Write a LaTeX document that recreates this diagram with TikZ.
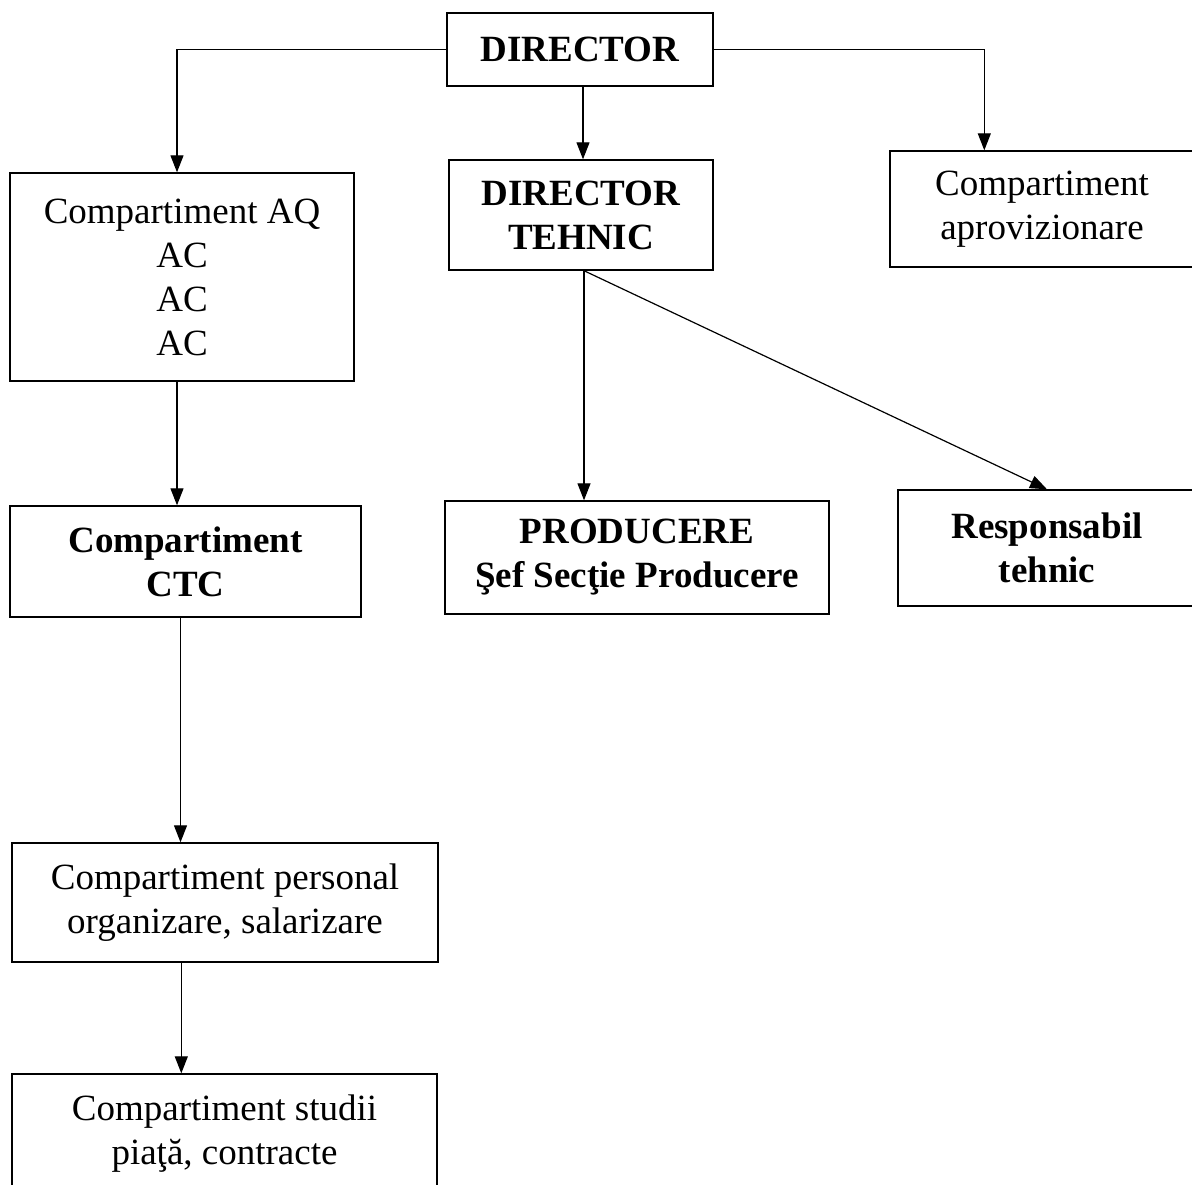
\documentclass[tikz,border=0pt]{standalone}
\usepackage{fontspec}
\setmainfont{Liberation Serif}
\usetikzlibrary{arrows.meta,positioning,calc}

\tikzset{
  box/.style={draw, line width=0.7pt, rectangle, inner sep=0pt, align=center,
    font=\fontsize{18.5}{22}\selectfont},
  bbox/.style={box, font=\fontsize{18.5}{22}\selectfont\bfseries},
  arr/.style={-{Triangle[length=8.5pt,width=6.5pt]}, line width=0.6pt},
}

\begin{document}
\begin{tikzpicture}[x=0.5pt, y=-0.5pt]
    \fill[white] (0,0) rectangle (1192,1184);
    \useasboundingbox (0,0) rectangle (1192,1184);
    % top row
    \node[bbox, minimum width=133pt, minimum height=36.5pt] (dir) at (580,49.5) {DIRECTOR};
    \node[box, minimum width=172pt, minimum height=104pt] (aq) at (182,277)
        {Compartiment AQ\\AC\\AC\\AC};
    \node[bbox, minimum width=132pt, minimum height=55pt] (dirteh) at (581,215)
        {DIRECTOR\\TEHNIC};
    \node[box, minimum width=152pt, minimum height=58pt] (aprov) at (1042,209)
        {Compartiment\\aprovizionare};
    % middle row
    \node[bbox, minimum width=175.5pt, minimum height=55.5pt] (ctc) at (185.5,561.5)
        {Compartiment\\CTC};
    \node[bbox, minimum width=192pt, minimum height=56.5pt] (prod) at (637,557.5)
        {PRODUCERE\\Şef Secţie Producere};
    \node[bbox, minimum width=149pt, minimum height=58pt] (resp) at (1047,548)
        {Responsabil\\tehnic};
    % left column
    \node[box, minimum width=213pt, minimum height=59.5pt] (pers) at (225,902.5)
        {Compartiment personal\\organizare, salarizare};
    \node[box, minimum width=212.5pt, minimum height=59.5pt] (studii) at (224.5,1133.5)
        {Compartiment studii\\piaţă, contracte};
    % connectors
    \draw[arr] (dir.west) -| ([xshift=-2.5pt]aq.north);
    \draw[arr] (dir.east) -| ($(aprov.north west)+(95,0)$);
    \draw[arr] ([xshift=1.5pt]dir.south) -- ([xshift=1.5pt]dir.south |- dirteh.north);
    \draw[arr] ([xshift=1.5pt]dirteh.south) -- ([xshift=1.5pt]dirteh.south |- prod.north);
    \draw[arr] ([xshift=1.5pt]dirteh.south) -- (resp.north);
    \draw[arr] ([xshift=-2.5pt]aq.south) -- ([xshift=-2.5pt]aq.south |- ctc.north);
    \draw[arr] ([xshift=-2.5pt]ctc.south) -- ([xshift=-2.5pt]ctc.south |- pers.north);
    \draw[arr] ($(pers.south west)+(170,0)$) coordinate (p1) -- (p1 |- studii.north);
\end{tikzpicture}
\end{document}
